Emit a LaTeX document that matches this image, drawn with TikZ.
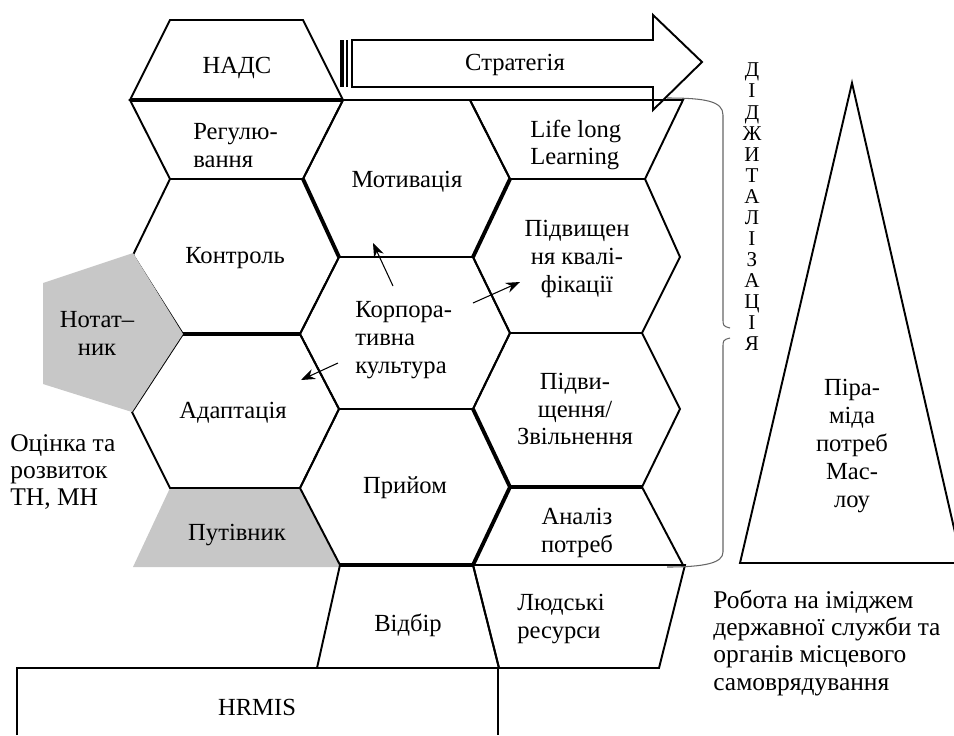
\documentclass[tikz,border=0pt]{standalone}
\usepackage{fontspec}
\setmainfont{Liberation Serif}
\usetikzlibrary{arrows.meta}

\tikzset{
  cell/.style={draw, line width=1.1pt, line join=miter},
  bold edge/.style={line width=2.2pt},
  shade/.style={fill=black!22},
  lbl/.style={font=\fontsize{14}{15.9}\selectfont, inner sep=0pt, align=center},
  note/.style={font=\fontsize{14.5}{15.5}\selectfont, inner sep=0pt, align=left},
  small arrow/.style={-{Stealth[length=8pt,width=6pt]}, line width=0.6pt},
}

\begin{document}
\begin{tikzpicture}[x=0.02cm, y=-0.02cm]
    \useasboundingbox (0,0) rectangle (954,735);

    % strategy arrow with striped tail
    \fill (340,40) rectangle (343.5,87);
    \fill (345.5,40) rectangle (347.5,87);
    \draw[cell, fill=white] (352,40) -- (653,40) -- (653,15) -- (702,62) -- (653,110) -- (653,87) -- (352,87) -- cycle;
    \node[lbl] (strat) at (515,65) {Стратегія};

    % grey guide under the left column
    \fill[shade] (170,488) -- (300,488) -- (340,567) -- (133,567) -- cycle;

    % left column
    \draw[cell] (170,20) -- (303,20) -- (343,100) -- (130,100) -- cycle;
    \draw[cell] (130,100) -- (343,100) -- (303,179) -- (170,179) -- cycle;
    \draw[cell] (170,179) -- (303,179) -- (339,257) -- (300,334) -- (183,334) -- (133,255) -- cycle;
    \draw[cell] (183,334) -- (300,334) -- (339,409) -- (300,488) -- (170,488) -- (132,412) -- cycle;

    % middle column
    \draw[cell] (343,100) -- (470,100) -- (510,179) -- (473,257) -- (339,257) -- (303,179) -- cycle;
    \draw[cell] (339,257) -- (473,257) -- (510,333) -- (473,409) -- (339,409) -- (300,334) -- cycle;
    \draw[cell] (339,409) -- (473,409) -- (510,487) -- (473,565) -- (340,565) -- (300,488) -- cycle;
    \draw[cell] (340,565) -- (473,565) -- (499,668) -- (317,668) -- cycle;

    % right column
    \draw[cell] (470,100) -- (683,100) -- (645,179) -- (510,179) -- cycle;
    \draw[cell] (510,179) -- (645,179) -- (680,257) -- (642,333) -- (510,333) -- (473,257) -- cycle;
    \draw[cell] (510,333) -- (642,333) -- (680,409) -- (642,487) -- (510,487) -- (473,409) -- cycle;
    \draw[cell] (510,487) -- (642,487) -- (683,565) -- (473,565) -- cycle;
    \draw[cell] (473,565) -- (685,565) -- (659,668) -- (499,668) -- cycle;

    % heavier edges
    \draw[bold edge] (130,100) -- (343,100);
    \draw[bold edge] (183,334) -- (300,334);
    \draw[bold edge] (303,179) -- (339,257);
    \draw[bold edge] (510,179) -- (473,257);
    \draw[bold edge] (473,409) -- (510,487) -- (473,565);
    \draw[bold edge] (340,565) -- (473,565);
    \draw[bold edge] (510,487) -- (642,487);

    % notebook pentagon
    \fill[shade] (133,253) -- (43,283) -- (43,384) -- (132,412) -- (183,334) -- cycle;

    % HRMIS box
    \draw[cell] (17,735) -- (17,668) -- (498,668) -- (498,735);

    % labels in the cells
    \node[lbl] (nads) at (237,68) {НАДС};
    \node[lbl, anchor=west, align=left] (reg) at (193,146) {Регулю-\\вання};
    \node[lbl] (kontr) at (235,258) {Контроль};
    \node[lbl] (adapt) at (233,413) {Адаптація};
    \node[lbl] (putiv) at (237,535) {Путівник};
    \node[lbl] (notat) at (97,333) {Нотат–\\ник};
    \node[lbl] (motiv) at (407,182) {Мотивація};
    \node[lbl, anchor=west, align=left] (korp) at (355,340) {Корпора-\\тивна\\культура};
    \node[lbl] (pryiom) at (405,488) {Прийом};
    \node[lbl] (vidbir) at (408,625) {Відбір};
    \node[lbl, anchor=west, align=left] (life) at (530,145) {Life long\\Learning};
    \node[lbl] (kval) at (577,259) {Підвищен\\ня квалі-\\фікації};
    \node[lbl] (zvil) at (575,409) {Підви-\\щення/\\Звільнення};
    \node[lbl] (analiz) at (577,533) {Аналіз\\потреб};
    \node[lbl, anchor=west, align=left] (resurs) at (517,619) {Людські\\ресурси};
    \node[lbl] (hrmis) at (257,707) {HRMIS};

    % arrows out of the corporate culture cell
    \coordinate (k1) at (393,286);
    \coordinate (k2) at (473,303);
    \coordinate (k3) at (338,363);
    \coordinate (m1) at (373,243);
    \coordinate (q1) at (520,282);
    \coordinate (d1) at (301,380);
    \draw[small arrow] (k1) -- (m1);
    \draw[small arrow] (k2) -- (q1);
    \draw[small arrow] (k3) -- (d1);

    % brace and vertical word
    \draw[black!60, line width=0.6pt] (667,98) .. controls (705,98) and (723,101) .. (723,115) -- (723,318) .. controls (723,326) .. (730,328);
    \draw[black!60, line width=0.6pt] (730,338) .. controls (723,340) .. (723,348) -- (723,552) .. controls (723,563) and (705,567) .. (667,567);
    \node[font=\fontsize{12}{12}\selectfont, inner sep=0pt, align=center] (digit) at (752,207) {Д\\І\\Д\\Ж\\И\\Т\\А\\Л\\І\\З\\А\\Ц\\І\\Я};

    % Maslow pyramid
    \draw[cell] (852,83) -- (740,563) -- (962,563) -- cycle;
    \node[lbl] (maslow) at (852,446) {Піра-\\міда\\потреб\\Мас-\\лоу};

    % side notes
    \node[note, anchor=west] (ocinka) at (10,472) {Оцінка та\\розвиток\\ТН, МН};
    \node[note, anchor=west] (imidzh) at (713,643) {Робота на іміджем\\державної служби та\\органів місцевого\\самоврядування};
\end{tikzpicture}
\end{document}
